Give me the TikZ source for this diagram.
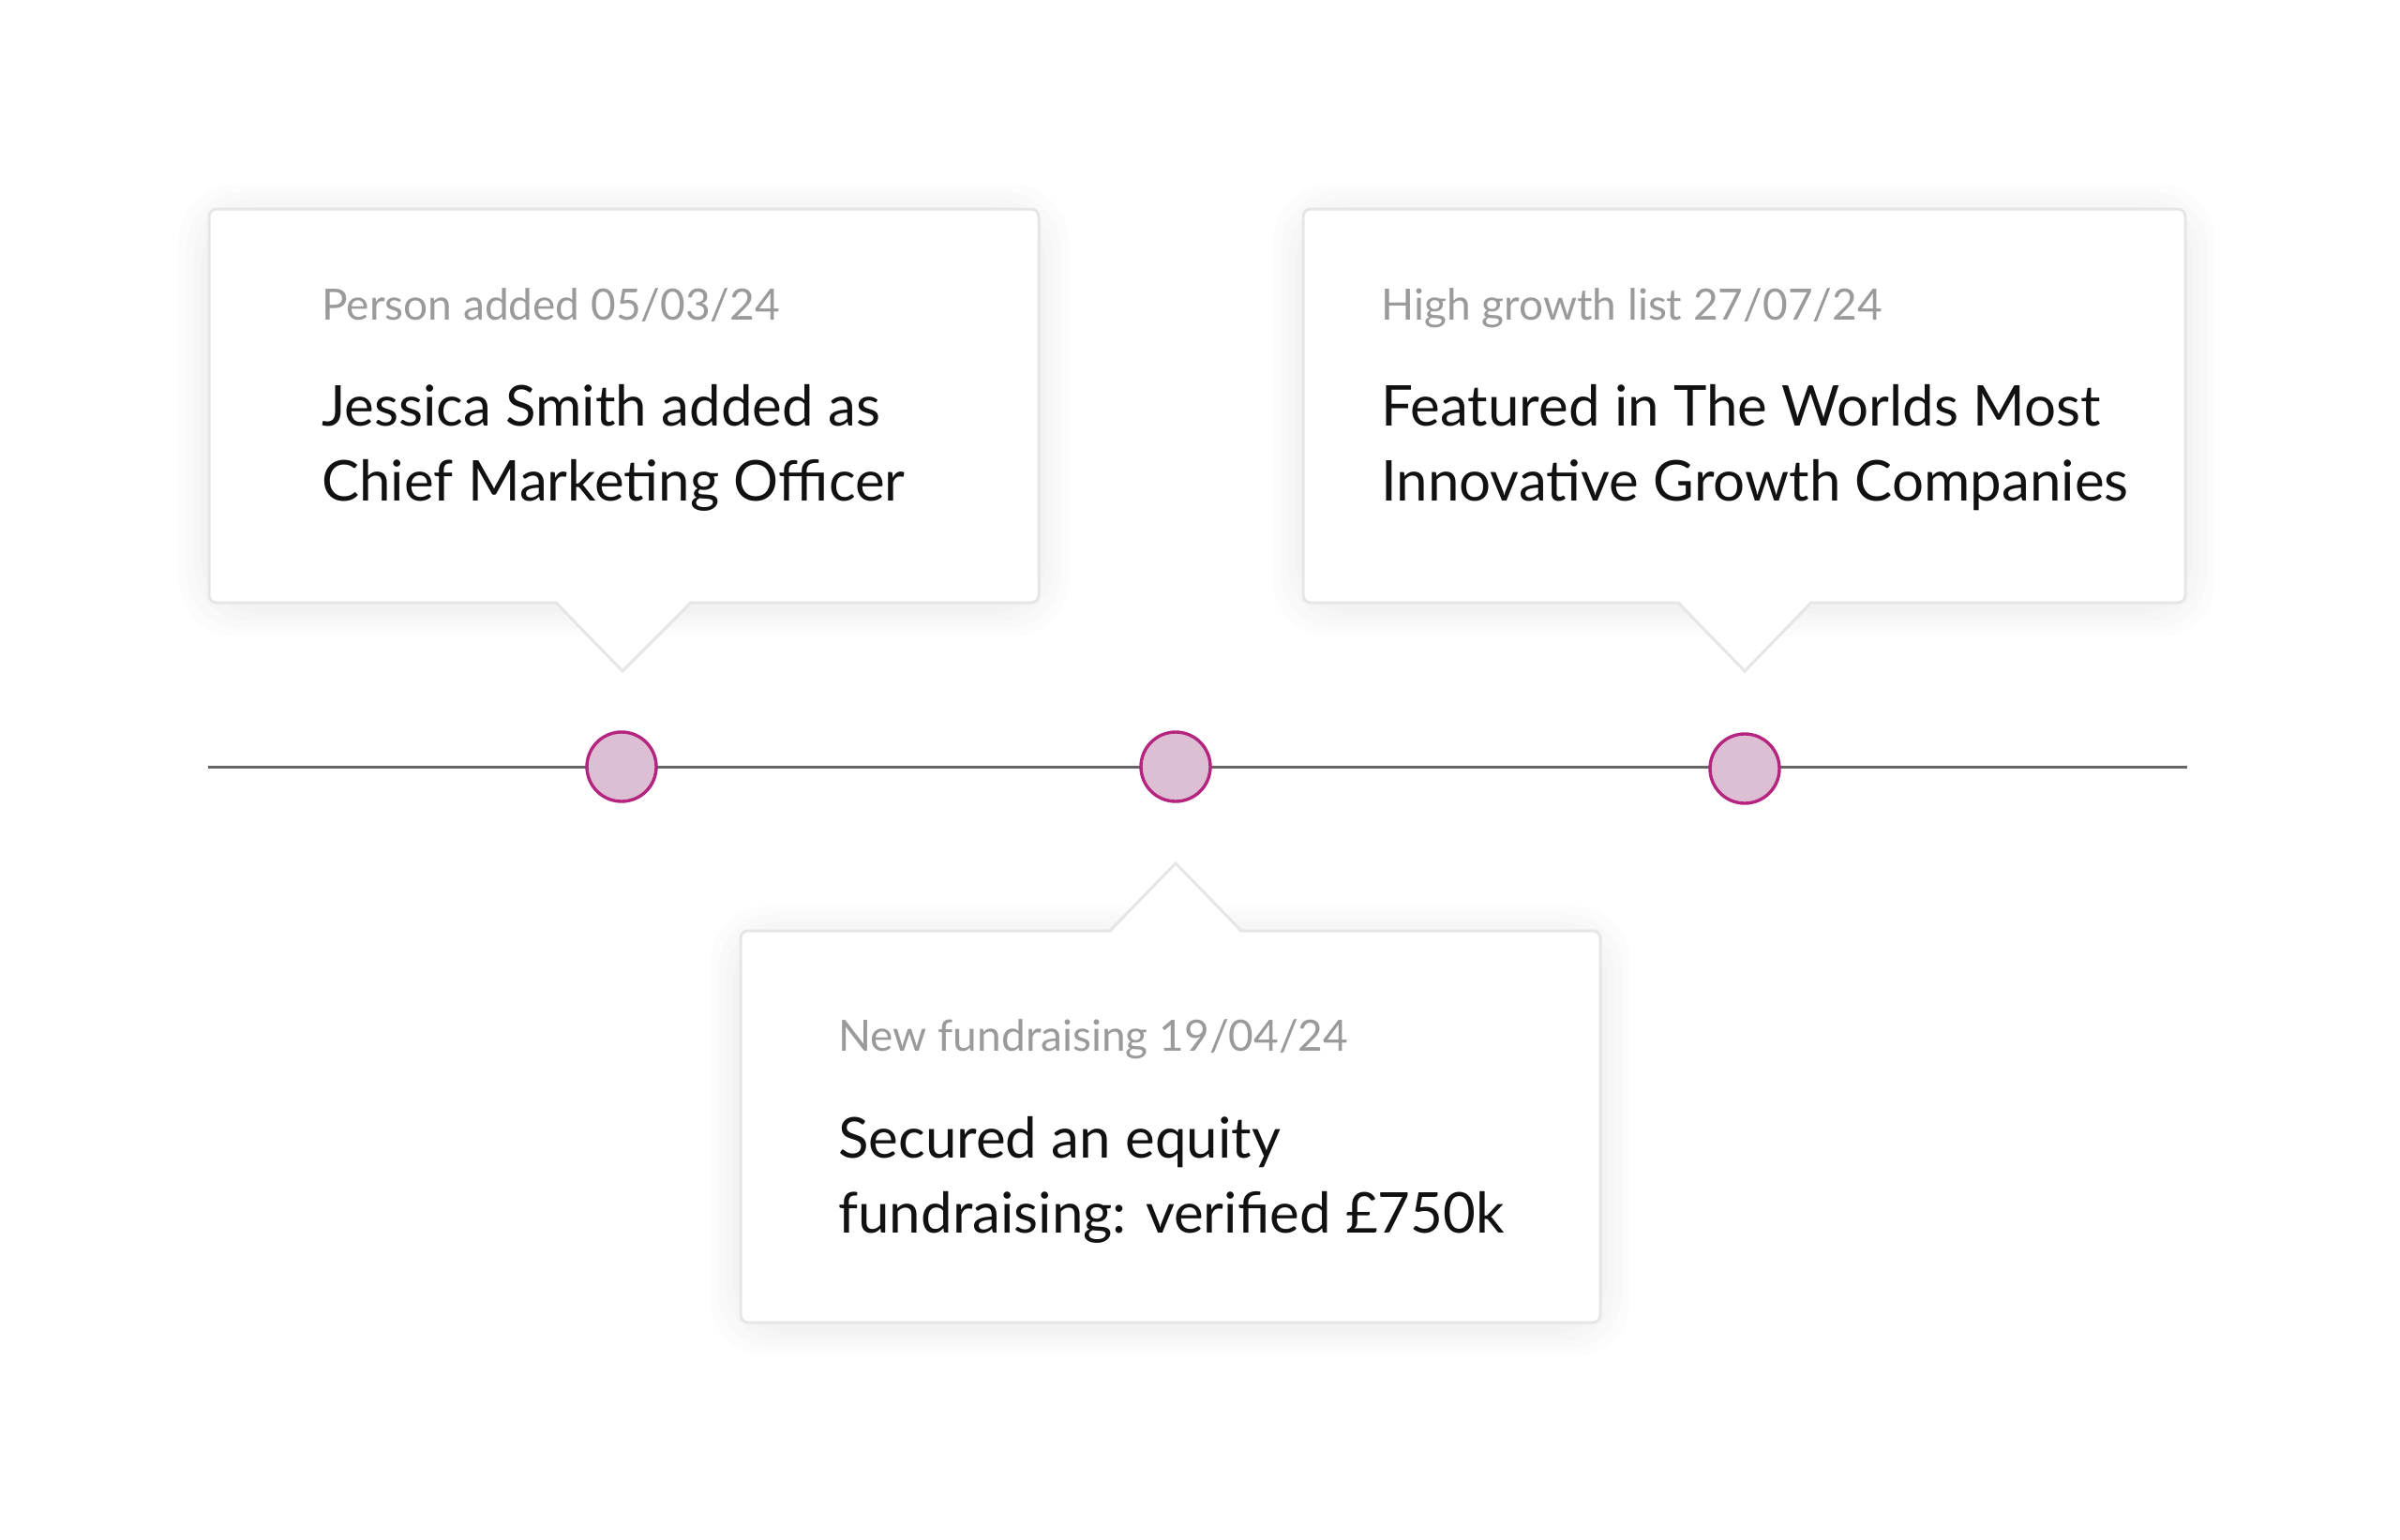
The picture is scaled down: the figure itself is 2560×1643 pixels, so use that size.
\documentclass[tikz,border=0pt]{standalone}
\usepackage{fontspec}
\setmainfont{Lato}
\definecolor{subgray}{HTML}{9A9A9A}
\definecolor{maintext}{HTML}{111111}
\definecolor{boxborder}{HTML}{E6E6E6}
\definecolor{linegray}{HTML}{666666}
\definecolor{dotfill}{HTML}{DDBFD4}
\definecolor{dotdraw}{HTML}{B5247E}
\begin{document}
\begin{tikzpicture}[x=0.5pt,y=-0.5pt,
  boxshape/.style={draw=boxborder,fill=white,line width=1.5pt,rounded corners=4pt},
  tipedge/.style={draw=boxborder,line width=1.5pt,line join=miter},
  shadowlayer/.style={fill=black,fill opacity=0.012,rounded corners=30pt},
  subtitle/.style={anchor=base west,inner sep=0pt,text=subgray,font=\fontsize{23}{27}\selectfont},
  maintxt/.style={anchor=base west,inner sep=0pt,text=maintext,align=left,font=\fontsize{30}{40}\selectfont},
  timeline/.style={draw=linegray,line width=1.5pt},
  dot/.style={circle,draw=dotdraw,fill=dotfill,line width=1.7pt,minimum size=37pt,inner sep=0pt}]
\useasboundingbox (0,0) rectangle (2560,1643);
\fill[white] (0,0) rectangle (2560,1643);

% shadows
\foreach \d in {8,16,24,32}{
  \fill[shadowlayer] (223-\d,223-\d+6) rectangle (1108+\d,643+\d+4);
  \fill[shadowlayer] (1390-\d,223-\d+6) rectangle (2331+\d,643+\d+4);
  \fill[shadowlayer] (790-\d,993-\d+6) rectangle (1707+\d,1411+\d+4);
}

% timeline
\coordinate (lstart) at (222,818);
\coordinate (lend) at (2333,818);
\draw[timeline] (lstart) -- (lend);

\node[dot] (d1) at (663,818) {};
\node[dot] (d2) at (1254,818) {};
\node[dot] (d3) at (1861,820) {};

% callout 1
\draw[boxshape] (223,223) rectangle (1108,643);
\coordinate (t1a) at (593,643);
\coordinate (t1) at (664,716);
\coordinate (t1b) at (737,643);
\fill[white] (593,640) -- (737,640) -- (t1) -- cycle;
\draw[tipedge] (t1a) -- (t1) -- (t1b);
\node[subtitle] (s1) at (343,341) {Person added 05/03/24};
\node[maintxt] (m1) at (343,534) {Jessica Smith added as\\Chief Marketing Officer};

% callout 3
\draw[boxshape] (1390,223) rectangle (2331,643);
\coordinate (t3a) at (1790,643);
\coordinate (t3) at (1861,716);
\coordinate (t3b) at (1932,643);
\fill[white] (1790,640) -- (1932,640) -- (t3) -- cycle;
\draw[tipedge] (t3a) -- (t3) -- (t3b);
\node[subtitle] (s3) at (1473,341) {High growth list 27/07/24};
\node[maintxt] (m3) at (1473,534) {Featured in The Worlds Most\\Innovative Growth Companies};

% callout 2
\draw[boxshape] (790,993) rectangle (1707,1411);
\coordinate (t2a) at (1184,993);
\coordinate (t2) at (1254,921);
\coordinate (t2b) at (1324,993);
\fill[white] (1184,996) -- (1324,996) -- (t2) -- cycle;
\draw[tipedge] (t2a) -- (t2) -- (t2b);
\node[subtitle] (s2) at (894,1121) {New fundraising 19/04/24};
\node[maintxt] (m2) at (894,1315) {Secured an equity\\fundraising: verified £750k};
\end{tikzpicture}
\end{document}
